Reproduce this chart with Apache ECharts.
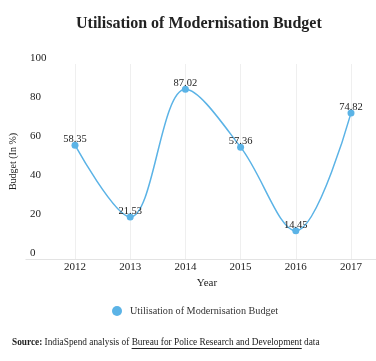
<!DOCTYPE html>
<html><head><meta charset="utf-8">
<script src="https://cdn.jsdelivr.net/npm/echarts@6/dist/echarts.min.js"></script>
<style>html,body{margin:0;padding:0;background:#fff}#c{width:376px;height:361px}</style>
</head><body><div id="c"></div>
<script>
const titleText = 'Utilisation of Modernisation Budget';
const seriesName = 'Utilisation of Modernisation Budget';
const years = ['2012', '2013', '2014', '2015', '2016', '2017'];
const budgetPct = [58.35, 21.53, 87.02, 57.36, 14.45, 74.82];
const yMin = 0, yMax = 100, yStep = 20;
const xAxisName = 'Year';
const yAxisName = 'Budget (In %)';
const sourceLabel = 'Source:';
const sourcePre = ' IndiaSpend analysis of ';
const sourceLink = 'Bureau for Police Research and Development';
const sourcePost = ' data';

const SERIF = '"Liberation Serif", "DejaVu Serif", serif';
const BLUE = '#5bb3e6';
const chart = echarts.init(document.getElementById('c'), null, {renderer: 'canvas'});

const ctx = document.createElement('canvas').getContext('2d');
function tw(t, f) { ctx.font = f; return ctx.measureText(t).width; }
const fB = 'bold 9.3px ' + SERIF, fN = '9.3px ' + SERIF;
const sx0 = 12, sy = 343;
const sx1 = sx0 + tw(sourceLabel, fB);
const sx2 = sx1 + tw(sourcePre, fN);
const sx3 = sx2 + tw(sourceLink, fN);

chart.setOption({
  animation: false,
  backgroundColor: '#fff',
  title: {
    text: titleText, left: 76, top: 16, padding: 0,
    textStyle: {fontFamily: SERIF, fontWeight: 'bold', fontSize: 16, color: '#222'}
  },
  legend: {
    data: [seriesName], left: 107, top: 301, icon: 'circle', itemWidth: 10, itemHeight: 10,
    textStyle: {fontFamily: SERIF, fontSize: 10.2, color: '#333', padding: [0, 0, 0, 3]}
  },
  grid: [
    {left: 25, right: 0, top: 64, bottom: 102},
    {left: 75, right: 25, top: 64, bottom: 102}
  ],
  xAxis: [
    {gridIndex: 0, type: 'value', min: 0, max: 1, axisLine: {show: true, lineStyle: {color: '#e3e3e3'}},
     axisTick: {show: false}, axisLabel: {show: false}, splitLine: {show: false}},
    {gridIndex: 1, type: 'category', boundaryGap: false, data: years,
     axisLine: {show: false}, axisTick: {show: false},
     axisLabel: {margin: 3, fontFamily: SERIF, fontSize: 11, color: '#222'},
     splitLine: {show: true, lineStyle: {color: '#efefef'}},
     name: xAxisName, nameLocation: 'middle', nameGap: 11,
     nameTextStyle: {fontFamily: SERIF, fontSize: 11, color: '#222', padding: [0, 12, 0, 0]}}
  ],
  yAxis: [
    {gridIndex: 0, type: 'value', min: yMin, max: yMax, interval: yStep,
     axisLine: {show: false}, axisTick: {show: false}, splitLine: {show: false},
     axisLabel: {inside: true, margin: 4, verticalAlign: 'bottom', fontFamily: SERIF, fontSize: 11, color: '#222'},
     name: yAxisName, nameLocation: 'middle', nameGap: 1,
     nameTextStyle: {fontFamily: SERIF, fontSize: 10, color: '#222'}},
    {gridIndex: 1, type: 'value', min: yMin, max: yMax, interval: yStep, show: false}
  ],
  series: [{
    name: seriesName, type: 'line', xAxisIndex: 1, yAxisIndex: 1, data: budgetPct,
    smooth: 0.35, symbol: 'circle', symbolSize: 7, showSymbol: true,
    lineStyle: {color: BLUE, width: 1.5}, itemStyle: {color: BLUE},
    label: {show: true, position: 'top', distance: -3, fontFamily: SERIF, fontSize: 10.5, color: '#222'}
  }],
  graphic: [
    {type: 'text', x: sx0, y: sy, style: {text: sourceLabel, font: fB, fill: '#222', verticalAlign: 'middle'}},
    {type: 'text', x: sx1, y: sy, style: {text: sourcePre, font: fN, fill: '#222', verticalAlign: 'middle'}},
    {type: 'text', x: sx2, y: sy, style: {text: sourceLink, font: fN, fill: '#222', verticalAlign: 'middle'}},
    {type: 'line', shape: {x1: sx2, y1: sy + 5.5, x2: sx3, y2: sy + 5.5}, style: {stroke: '#222', lineWidth: 1}},
    {type: 'text', x: sx3, y: sy, style: {text: sourcePost, font: fN, fill: '#222', verticalAlign: 'middle'}}
  ]
});
</script></body></html>
